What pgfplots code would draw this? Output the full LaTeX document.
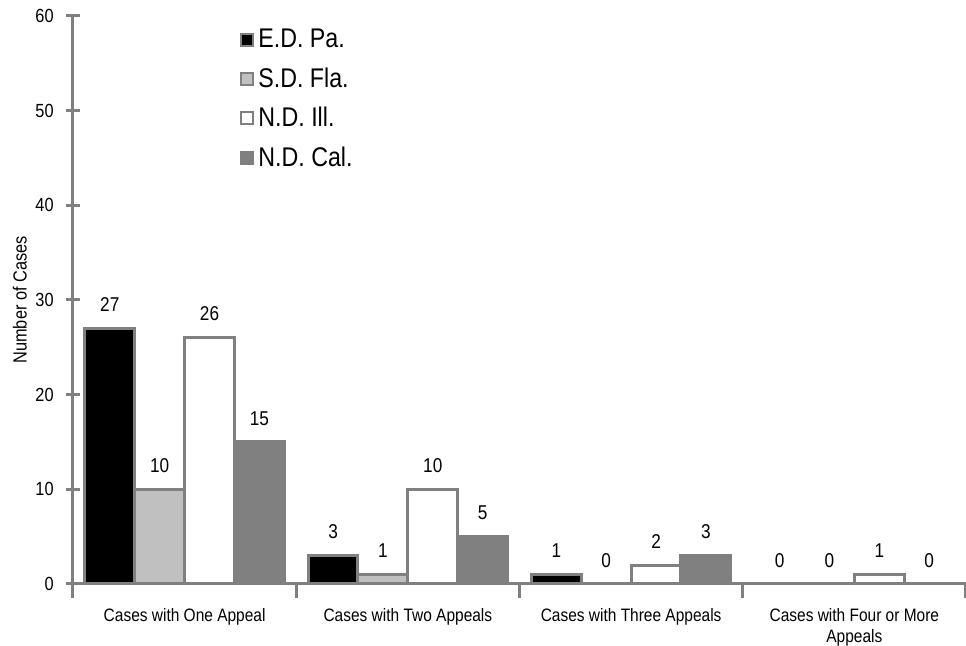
\documentclass[border=0pt]{standalone}
\usepackage{pgfplots}
\pgfplotsset{compat=1.18}
\usepackage{fontspec}
\setmainfont{Liberation Sans}[FakeStretch=0.86]
\definecolor{axgray}{HTML}{808080}
\definecolor{ltgray}{HTML}{C0C0C0}
\begin{document}
\begin{tikzpicture}
\path[use as bounding box] (-36.5pt,-31pt) rectangle (446.5pt,292pt);
\begin{axis}[
  scale only axis,
  width=446.5pt, height=284pt,
  xmin=-0.5, xmax=3.5,
  ymin=0, ymax=60,
  axis x line*=bottom,
  axis y line*=left,
  axis line style={draw=axgray, line width=1.5pt, -},
  every tick/.style={draw=axgray, line width=1.5pt},
  tick align=center,
  xtick={0,1,2,3},
  xticklabels={Cases with One Appeal, Cases with Two Appeals, Cases with Three Appeals, {Cases with Four or More\\Appeals}},
  major x tick style={draw=none},
  minor xtick={-0.5,0.5,1.5,2.5,3.5},
  minor tick length=7pt,
  ytick={0,10,...,60},
  major tick length=7pt,
  /pgf/number format/assume math mode=true,
  yticklabel style={font=\fontsize{9.5}{10}\selectfont, inner sep=0pt, xshift=-6pt},
  xticklabel style={font=\fontsize{9}{10.5}\selectfont, align=center, inner sep=0pt, yshift=-5pt},
  ylabel={Number of Cases},
  ylabel style={font=\fontsize{9.5}{11}\selectfont, at={(axis description cs:-0.0594,0.5)}, anchor=center},
  ybar=0pt,
  bar width=0.2234,
  nodes near coords,
  every node near coord/.append style={font=\fontsize{10}{11}\selectfont, anchor=south, inner sep=0pt, yshift=7.6pt, text=black},
  legend style={at={(axis description cs:0.187,0.985)}, anchor=north west, draw=none, fill=none,
    font=\fontsize{13.5}{15}\selectfont, row sep=4.5pt, inner sep=0pt},
  legend cell align=left,
  legend image code/.code={\draw[#1, line width=1pt] (0pt,-3pt) rectangle (6pt,3pt);},
  clip=false,
]
\addplot[bar shift=-0.3351, draw=axgray, line width=1.5pt, fill=black] coordinates {(0,27) (1,3) (2,1) (3,0)};
\addlegendentry{E.D. Pa.}
\addplot[bar shift=-0.1117, draw=axgray, line width=1.5pt, fill=ltgray] coordinates {(0,10) (1,1) (2,0) (3,0)};
\addlegendentry{S.D. Fla.}
\addplot[bar shift=0.1117, draw=axgray, line width=1.5pt, fill=white] coordinates {(0,26) (1,10) (2,2) (3,1)};
\addlegendentry{N.D. Ill.}
\addplot[bar shift=0.3351, draw=axgray, line width=1.5pt, fill=axgray] coordinates {(0,15) (1,5) (2,3) (3,0)};
\addlegendentry{N.D. Cal.}
\end{axis}
\end{tikzpicture}
\end{document}
